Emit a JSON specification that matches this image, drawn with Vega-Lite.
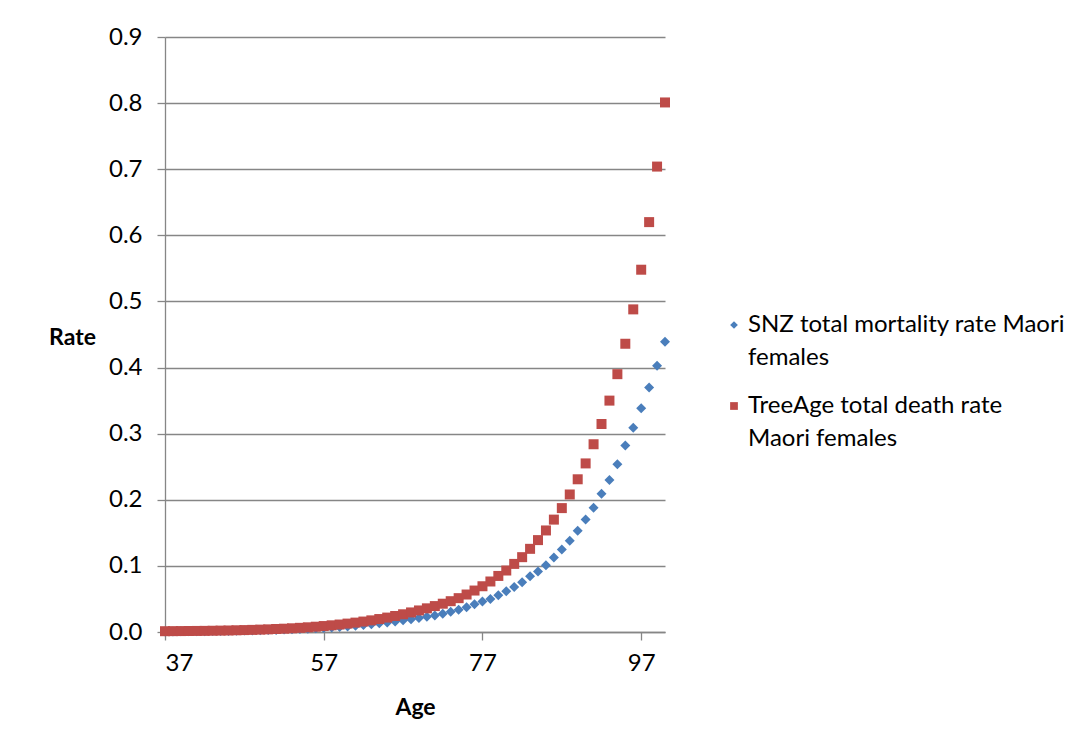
{
  "$schema": "https://vega.github.io/schema/vega-lite/v6.json",
  "autosize": "none",
  "padding": {"left": 165, "top": 37, "right": 421, "bottom": 119},
  "width": 500,
  "height": 595,
  "background": "white",
  "config": {
    "view": {"stroke": null},
    "font": "Lato",
    "style": {"guide-label": {"lineHeight": 33}},
    "axis": {"labelFont": "Lato", "titleFont": "Lato", "labelFontSize": 24, "titleFontSize": 23, "labelColor": "#000000", "titleColor": "#000000", "titleFontWeight": "bold", "domainColor": "#868686", "tickColor": "#868686", "gridColor": "#868686", "domainWidth": 1.3, "tickWidth": 1.3, "gridWidth": 1.3, "tickSize": 8},
    "legend": {"labelFont": "Lato", "labelFontSize": 24, "labelColor": "#000000"}
  },
  "data": {
    "values": [
      {"age":37,"snz":0.0008,"tree":0.0012},{"age":38,"snz":0.0009,"tree":0.0013},{"age":39,"snz":0.0010,"tree":0.0014},{"age":40,"snz":0.0011,"tree":0.0015},
      {"age":41,"snz":0.0012,"tree":0.0016},{"age":42,"snz":0.0013,"tree":0.0017},{"age":43,"snz":0.0014,"tree":0.0019},{"age":44,"snz":0.0016,"tree":0.0021},
      {"age":45,"snz":0.0017,"tree":0.0023},{"age":46,"snz":0.0019,"tree":0.0026},{"age":47,"snz":0.0021,"tree":0.0029},{"age":48,"snz":0.0023,"tree":0.0032},
      {"age":49,"snz":0.0026,"tree":0.0036},{"age":50,"snz":0.0029,"tree":0.0040},{"age":51,"snz":0.0032,"tree":0.0045},{"age":52,"snz":0.0036,"tree":0.0050},
      {"age":53,"snz":0.0040,"tree":0.0056},{"age":54,"snz":0.0044,"tree":0.0063},{"age":55,"snz":0.0049,"tree":0.0071},{"age":56,"snz":0.0055,"tree":0.0080},
      {"age":57,"snz":0.0061,"tree":0.0090},{"age":58,"snz":0.0068,"tree":0.0101},{"age":59,"snz":0.0076,"tree":0.0113},{"age":60,"snz":0.0085,"tree":0.0127},
      {"age":61,"snz":0.0095,"tree":0.0142},{"age":62,"snz":0.0106,"tree":0.0158},{"age":63,"snz":0.0118,"tree":0.0176},{"age":64,"snz":0.0131,"tree":0.0196},
      {"age":65,"snz":0.0145,"tree":0.0218},{"age":66,"snz":0.0160,"tree":0.0242},{"age":67,"snz":0.0176,"tree":0.0268},{"age":68,"snz":0.0193,"tree":0.0296},
      {"age":69,"snz":0.0211,"tree":0.0326},{"age":70,"snz":0.0230,"tree":0.0358},{"age":71,"snz":0.0251,"tree":0.0392},{"age":72,"snz":0.0276,"tree":0.0428},
      {"age":73,"snz":0.0305,"tree":0.0466},{"age":74,"snz":0.0338,"tree":0.0512},{"age":75,"snz":0.0374,"tree":0.0567},{"age":76,"snz":0.042,"tree":0.0627},
      {"age":77,"snz":0.046,"tree":0.0692},{"age":78,"snz":0.050,"tree":0.0764},{"age":79,"snz":0.0556,"tree":0.0848},{"age":80,"snz":0.0617,"tree":0.093},
      {"age":81,"snz":0.068,"tree":0.103},{"age":82,"snz":0.0753,"tree":0.1132},{"age":83,"snz":0.0844,"tree":0.1258},{"age":84,"snz":0.0915,"tree":0.139},
      {"age":85,"snz":0.101,"tree":0.1536},{"age":86,"snz":0.1127,"tree":0.170},{"age":87,"snz":0.1248,"tree":0.1874},{"age":88,"snz":0.138,"tree":0.208},
      {"age":89,"snz":0.153,"tree":0.231},{"age":90,"snz":0.170,"tree":0.255},{"age":91,"snz":0.188,"tree":0.284},{"age":92,"snz":0.209,"tree":0.3146},
      {"age":93,"snz":0.2298,"tree":0.350},{"age":94,"snz":0.2536,"tree":0.390},{"age":95,"snz":0.282,"tree":0.436},{"age":96,"snz":0.309,"tree":0.488},
      {"age":97,"snz":0.3385,"tree":0.548},{"age":98,"snz":0.370,"tree":0.620},{"age":99,"snz":0.4026,"tree":0.704},{"age":100,"snz":0.439,"tree":0.801}
    ]
  },
  "transform": [
    {"fold": ["snz", "tree"], "as": ["series", "rate"]}
  ],
  "mark": {"type": "point", "filled": true, "opacity": 1, "size": 100},
  "encoding": {
    "x": {
      "field": "age", "type": "quantitative",
      "scale": {"domain": [37, 100], "nice": false, "zero": false},
      "axis": {"title": "Age", "values": [37, 57, 77, 97], "grid": false, "labelPadding": 11, "titleY": 75, "titleBaseline": "middle"}
    },
    "y": {
      "field": "rate", "type": "quantitative",
      "scale": {"domain": [0, 0.9], "nice": false},
      "axis": {"title": "Rate", "values": [0, 0.1, 0.2, 0.3, 0.4, 0.5, 0.6, 0.7, 0.8, 0.9], "format": ".1f", "grid": true, "labelPadding": 15, "titleAngle": 0, "titleAlign": "center", "titleBaseline": "middle", "titleX": -93, "titleY": 300}
    },
    "color": {
      "field": "series", "type": "nominal",
      "scale": {"domain": ["snz", "tree"], "range": ["#4A7EBB", "#BE4B48"]},
      "legend": {
        "title": null, "orient": "none", "legendX": 557, "legendY": 276,
        "symbolSize": 60, "rowPadding": 24, "labelOffset": 2, "labelLimit": 420, "padding": 0,
        "labelExpr": "datum.value == 'snz' ? ['SNZ total mortality rate Maori', 'females'] : ['TreeAge total  death rate', 'Maori females']",
        "encode": {"labels": {"update": {"lineHeight": {"value": 33}}}}
      }
    },
    "shape": {
      "field": "series", "type": "nominal",
      "scale": {"domain": ["snz", "tree"], "range": ["diamond", "square"]}
    },
    "order": {"field": "series", "type": "nominal"}
  }
}
